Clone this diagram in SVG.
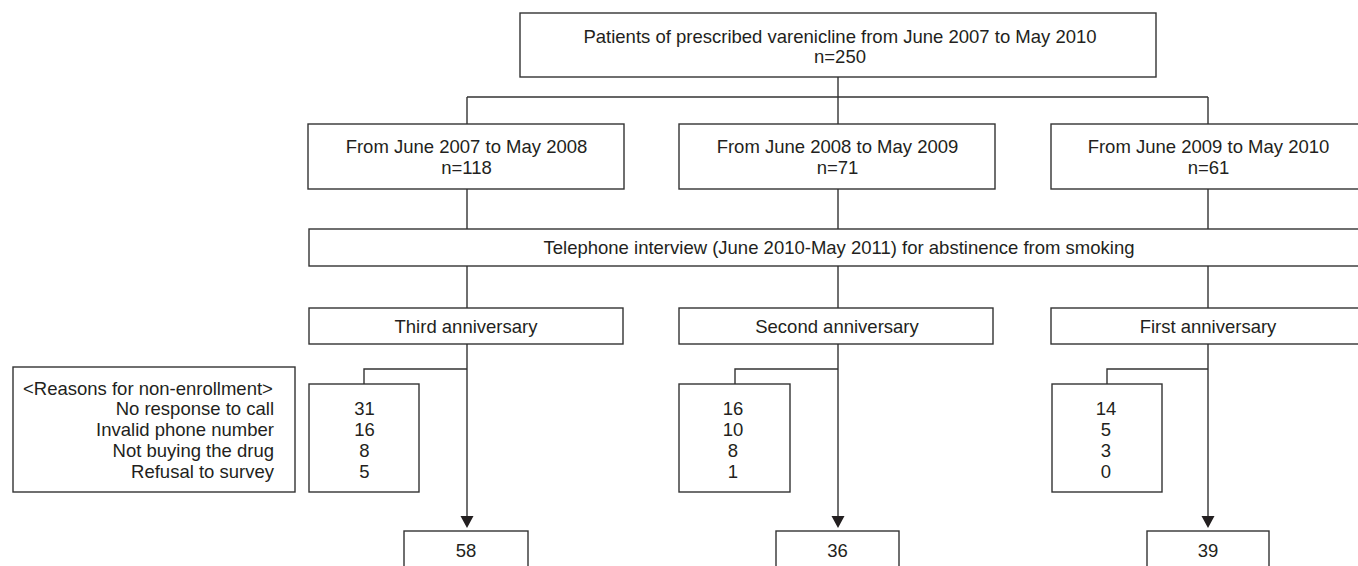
<svg xmlns="http://www.w3.org/2000/svg" width="1358" height="566" viewBox="0 0 1358 566">
<defs>
<style>
.box{fill:#fff;stroke:#333;stroke-width:1.4}
.ln{fill:none;stroke:#333;stroke-width:1.4}
text{font-family:"Liberation Sans",Arial,sans-serif;font-size:18.5px;fill:#231f20}
.c{text-anchor:middle}
.r{text-anchor:end}
</style>
<marker id="ah" markerWidth="13" markerHeight="12" refX="6.5" refY="12" orient="auto" markerUnits="userSpaceOnUse" viewBox="0 0 13 12">
<path d="M0,0 L13,0 L6.5,12 Z" fill="#231f20" transform="rotate(-90 6.5 6) translate(0.5 0.5)"/>
</marker>
</defs>
<rect width="1358" height="566" fill="#fff"/>
<g id="connectors">
<path class="ln" d="M838,77 V97 M467,97 H1208 M467,97 V124 M838,97 V124 M1208,97 V124"/>
<path class="ln" d="M467,189 V229 M838,189 V229 M1208,189 V229"/>
<path class="ln" d="M467,266 V308 M838,266 V308 M1208,266 V308"/>
<path class="ln" d="M364,384 V369 H467 M735,384 V369 H838 M1107,384 V369 H1208"/>
<path class="ln" d="M467,344 V517 M838,344 V517 M1208,344 V517"/>
<path d="M460.5,516 H473.5 L467,528 Z M831.5,516 H844.5 L838,528 Z M1201.5,516 H1214.5 L1208,528 Z" fill="#231f20"/>
</g>
<g id="top">
<rect class="box" x="520" y="13" width="636" height="64"/>
<text class="c" x="840" y="42.5">Patients of prescribed varenicline from June 2007 to May 2010</text>
<text class="c" x="840" y="62.5">n=250</text>
</g>
<g id="period1">
<rect class="box" x="308" y="124" width="316" height="65"/>
<text class="c" x="466.5" y="153">From June 2007 to May 2008</text>
<text class="c" x="466.5" y="174">n=118</text>
</g>
<g id="period2">
<rect class="box" x="679" y="124" width="316" height="65"/>
<text class="c" x="837.5" y="153">From June 2008 to May 2009</text>
<text class="c" x="837.5" y="174">n=71</text>
</g>
<g id="period3">
<rect class="box" x="1051" y="124" width="316" height="65"/>
<text class="c" x="1208.5" y="153">From June 2009 to May 2010</text>
<text class="c" x="1208.5" y="174">n=61</text>
</g>
<g id="telephone">
<rect class="box" x="309" y="229" width="1060" height="37"/>
<text class="c" x="839" y="254">Telephone interview (June 2010-May 2011) for abstinence from smoking</text>
</g>
<g id="third">
<rect class="box" x="309" y="308" width="314" height="36"/>
<text class="c" x="466" y="333">Third anniversary</text>
</g>
<g id="second">
<rect class="box" x="679" y="308" width="314" height="36"/>
<text class="c" x="837" y="333">Second anniversary</text>
</g>
<g id="first">
<rect class="box" x="1051" y="308" width="316" height="36"/>
<text class="c" x="1208" y="333">First anniversary</text>
</g>
<g id="reasons">
<rect class="box" x="13" y="367" width="282" height="125"/>
<text x="23" y="394.5">&lt;Reasons for non-enrollment&gt;</text>
<text class="r" x="274" y="415">No response to call</text>
<text class="r" x="274" y="436">Invalid phone number</text>
<text class="r" x="274" y="457">Not buying the drug</text>
<text class="r" x="274" y="477.5">Refusal to survey</text>
</g>
<g id="counts3">
<rect class="box" x="309" y="384" width="110" height="108"/>
<text class="c" x="364.5" y="415">31</text>
<text class="c" x="364.5" y="436">16</text>
<text class="c" x="364.5" y="457">8</text>
<text class="c" x="364.5" y="477.5">5</text>
</g>
<g id="counts2">
<rect class="box" x="679" y="384" width="111" height="108"/>
<text class="c" x="733" y="415">16</text>
<text class="c" x="733" y="436">10</text>
<text class="c" x="733" y="457">8</text>
<text class="c" x="733" y="477.5">1</text>
</g>
<g id="counts1">
<rect class="box" x="1052" y="384" width="110" height="108"/>
<text class="c" x="1106" y="415">14</text>
<text class="c" x="1106" y="436">5</text>
<text class="c" x="1106" y="457">3</text>
<text class="c" x="1106" y="477.5">0</text>
</g>
<g id="result3">
<rect class="box" x="404" y="531" width="124" height="50"/>
<text class="c" x="466" y="557">58</text>
</g>
<g id="result2">
<rect class="box" x="776" y="531" width="123" height="50"/>
<text class="c" x="837.5" y="557">36</text>
</g>
<g id="result1">
<rect class="box" x="1147" y="531" width="122" height="50"/>
<text class="c" x="1208" y="557">39</text>
</g>
</svg>
